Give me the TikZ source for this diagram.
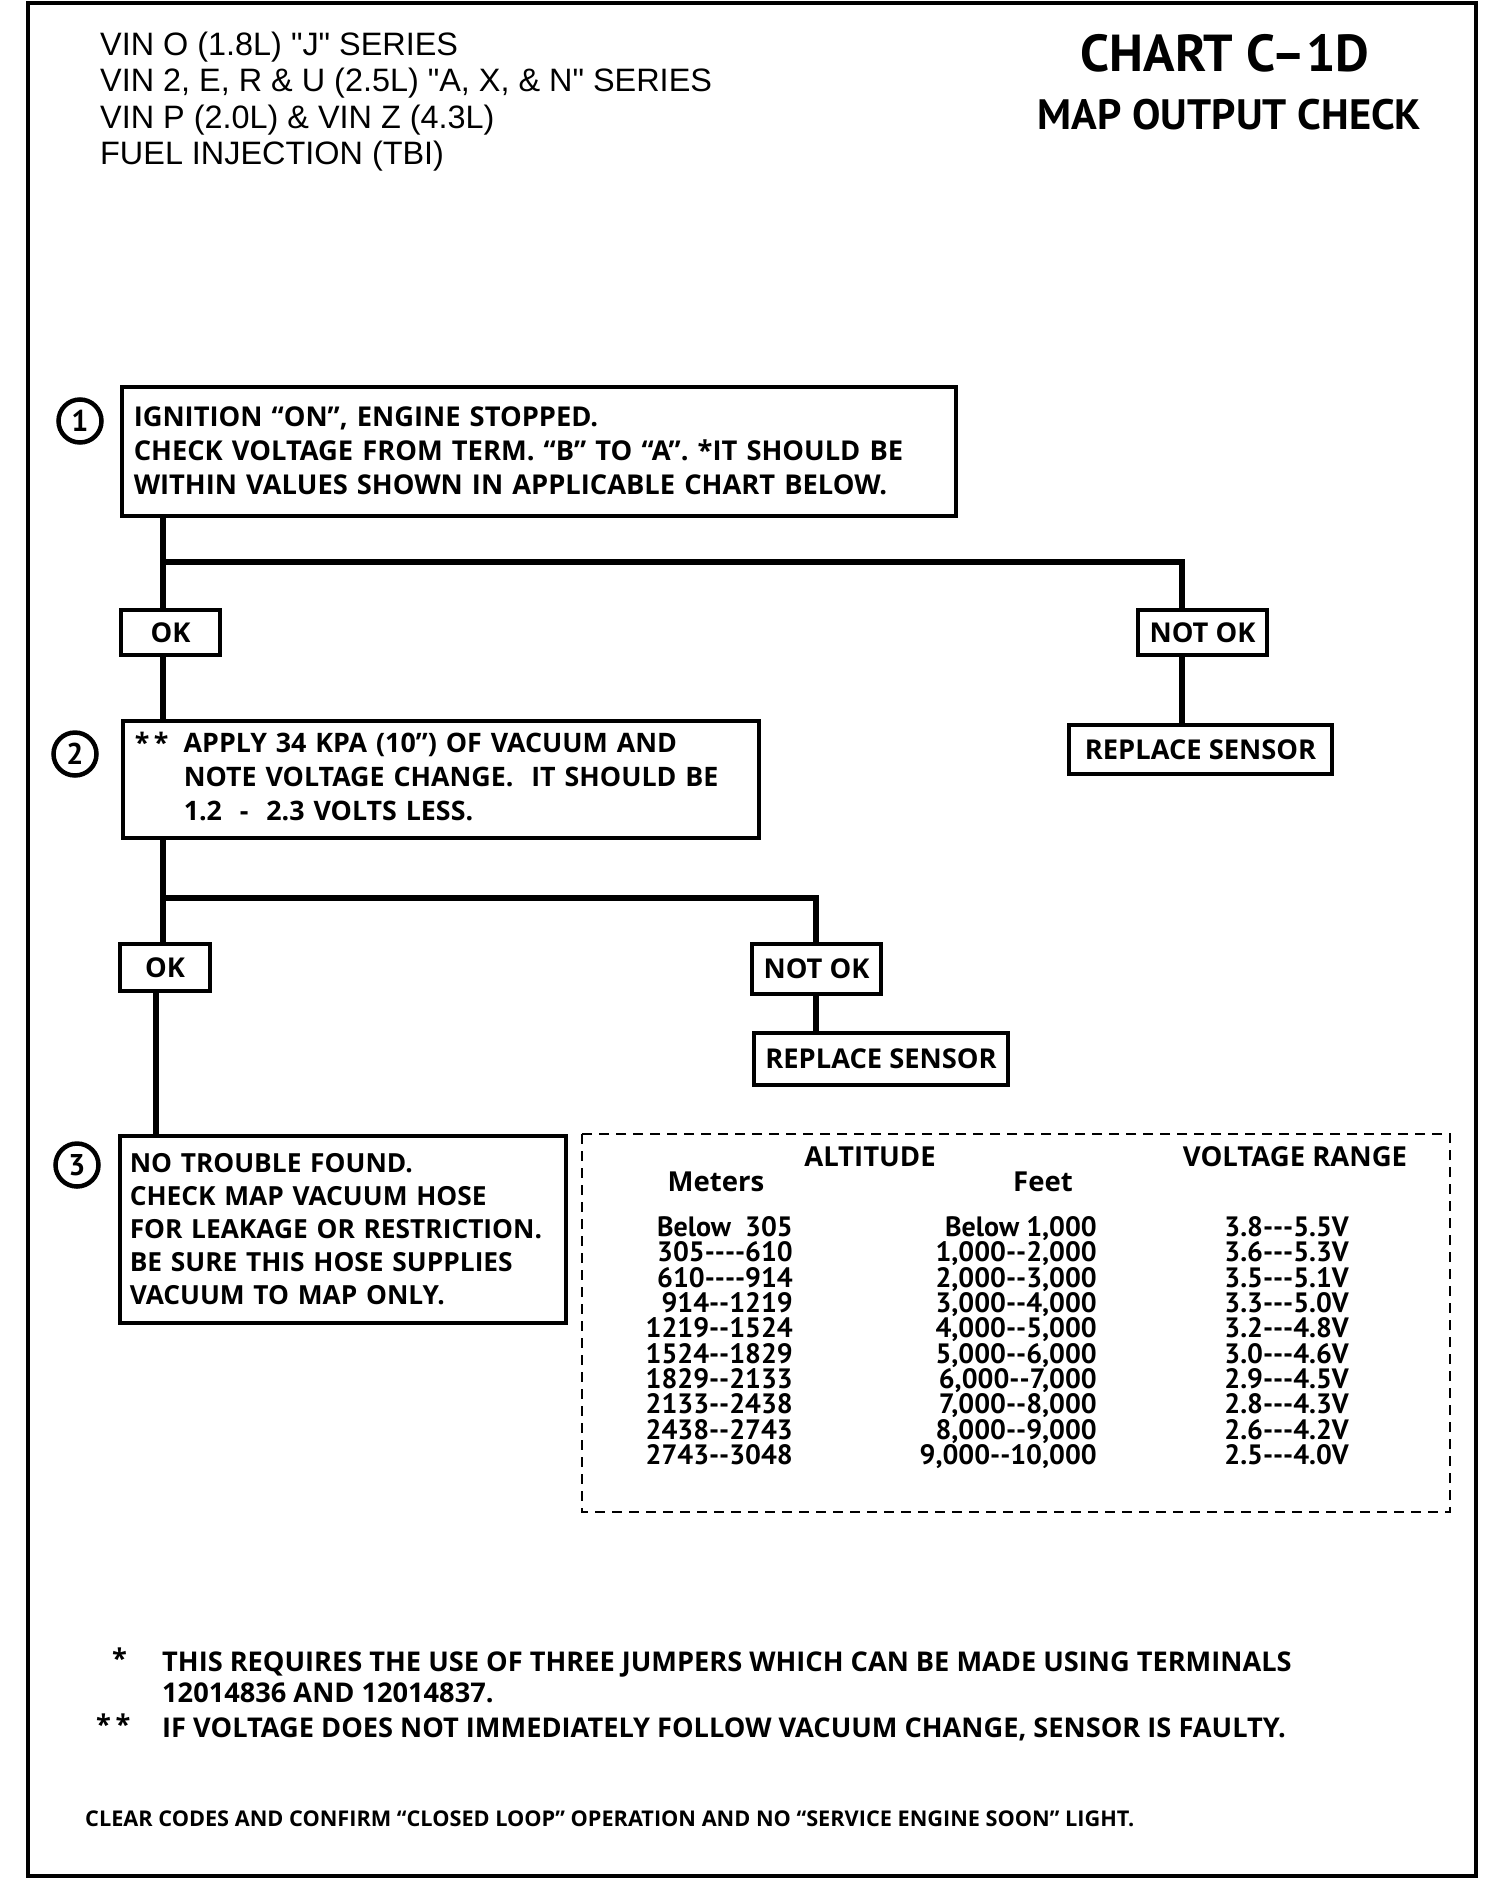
\documentclass[tikz,border=0pt]{standalone}
\usepackage{fontspec}
\setmainfont{Open Sans}
\newfontfamily\hdrfont{Liberation Sans}
\newfontfamily\ptfont{PT Sans}
\newcommand\hy{\mbox{-}}
\newcommand\bxfont{\bfseries\fontsize{27.3}{34}\selectfont}
\newcommand\tbfont{\ptfont\bfseries\fontsize{28}{25.3}\selectfont}
\newcommand\thfont{\bfseries\fontsize{27.5}{28}\selectfont}
\begin{document}
\begin{tikzpicture}[x=1pt,y=-1pt,
  box/.style={draw,line width=3.5pt,anchor=north west,inner xsep=12pt,inner ysep=0pt,align=left,font=\bxfont},
  small/.style={draw,line width=3.5pt,inner sep=0pt,font=\bxfont},
  conn/.style={line width=5.5pt,line join=miter},
  num/.style={draw,circle,line width=4.5pt,minimum size=43pt,inner sep=0pt,font=\ptfont\bfseries\fontsize{30}{30}\selectfont},
  hdr/.style={anchor=base west,inner sep=0pt,font=\hdrfont\fontsize{32.4}{36}\selectfont},
  tcell/.style={anchor=base east,inner sep=0pt,font=\tbfont},
  note/.style={anchor=base west,inner sep=0pt,font=\bfseries\fontsize{27.2}{30}\selectfont}]
\useasboundingbox (0,0) rectangle (1504,1880);
% frame
\draw[line width=4pt] (28,3) rectangle (1476,1876);
% header
\node[hdr] (h1) at (100,55) {VIN O (1.8L) "J" SERIES};
\node[hdr] (h2) at (100,91) {VIN 2, E, R \& U (2.5L) "A, X, \& N" SERIES};
\node[hdr] (h3) at (100,128) {VIN P (2.0L) \& VIN Z (4.3L)};
\node[hdr] (h4) at (100,164) {FUEL INJECTION (TBI)};
\node[inner sep=0pt,font=\ptfont\bfseries\fontsize{52}{52}\selectfont] (title) at (1225,53) {CHART C–1D};
\node[inner sep=0pt,font=\ptfont\bfseries\fontsize{42.5}{42.5}\selectfont] (sub) at (1229.5,115) {MAP OUTPUT CHECK};
% step 1
\node[box,minimum width=834pt,minimum height=129pt,text width=810pt] (b1) at (120,385)
  {IGNITION “ON”, ENGINE STOPPED.\\CHECK VOLTAGE FROM TERM. “B” TO “A”. *IT SHOULD BE\\WITHIN VALUES SHOWN IN APPLICABLE CHART BELOW.};
\node[num] (n1) at (80,421) {1};
\node[small,minimum width=99pt,minimum height=45pt] (ok1) at (170.5,632.5) {OK};
\node[small,minimum width=129pt,minimum height=45pt] (nok1) at (1202.5,632.5) {NOT OK};
\node[small,minimum width=263pt,minimum height=49pt] (rs1) at (1200.5,749.5) {REPLACE SENSOR};
\coordinate (j1) at (163,562);
\coordinate (c1) at (1182,562);
\draw[conn] (j1 |- b1.south) -- (j1 |- ok1.north);
\draw[conn] (j1) -- (c1) -- (c1 |- nok1.north);
\draw[conn] (c1 |- nok1.south) -- (c1 |- rs1.north);
% step 2
\node[box,minimum width=636pt,minimum height=117pt,text width=612pt,font=\bfseries\fontsize{26.8}{34}\selectfont] (b2) at (121,719)
  {\begin{tabular}{@{}p{49pt}@{}l@{}}*\,*&APPLY 34 KPA (10”) OF VACUUM AND\\&NOTE VOLTAGE CHANGE.\ \ IT SHOULD BE\\&1.2 \ -\ \ 2.3 VOLTS LESS.\end{tabular}};
\node[num] (n2) at (75,754) {2};
\draw[conn] (j1 |- ok1.south) -- (j1 |- b2.north);
\node[small,minimum width=90pt,minimum height=47pt] (ok2) at (165,967.5) {OK};
\node[small,minimum width=129pt,minimum height=50pt] (nok2) at (816.5,969) {NOT OK};
\node[small,minimum width=254pt,minimum height=52pt] (rs2) at (881,1059) {REPLACE SENSOR};
\coordinate (j2) at (163,898);
\coordinate (c2) at (816,898);
\coordinate (j3) at (156,991);
\draw[conn] (j2 |- b2.south) -- (j2 |- ok2.north);
\draw[conn] (j2) -- (c2) -- (c2 |- nok2.north);
\draw[conn] (c2 |- nok2.south) -- (c2 |- rs2.north);
\draw[conn] (j3 |- ok2.south) -- (j3 |- 0,1134);
% step 3
\node[box,minimum width=446pt,minimum height=187pt,inner xsep=10pt,text width=426pt,font=\bfseries\fontsize{26.3}{33}\selectfont] (b3) at (118,1134)
  {\mbox{NO TROUBLE FOUND.}\\\mbox{CHECK MAP VACUUM HOSE}\\\mbox{FOR LEAKAGE OR RESTRICTION.}\\\mbox{BE SURE THIS HOSE SUPPLIES}\\\mbox{VACUUM TO MAP ONLY.}};
\node[num] (n3) at (77,1165) {3};
% table
\draw[line width=2.2pt,dash pattern=on 10pt off 7pt] (582,1134) rectangle (1450,1512);
\node[anchor=base,inner sep=0pt,font=\thfont] (alt) at (870,1166) {ALTITUDE};
\node[anchor=base,inner sep=0pt,font=\thfont] (vr) at (1295,1166) {VOLTAGE RANGE};
\node[anchor=base,inner sep=0pt,font=\thfont] (met) at (716,1191) {Meters};
\node[anchor=base,inner sep=0pt,font=\thfont] (ft) at (1043,1191) {Feet};
\foreach \m/\f/\v [count=\i] in {
  {Below\ \ 305}/{Below 1,000}/{3.8\hy\hy\hy5.5V},
  {305\hy\hy\hy\hy610}/{1,000\hy\hy2,000}/{3.6\hy\hy\hy5.3V},
  {610\hy\hy\hy\hy914}/{2,000\hy\hy3,000}/{3.5\hy\hy\hy5.1V},
  {914\hy\hy1219}/{3,000\hy\hy4,000}/{3.3\hy\hy\hy5.0V},
  {1219\hy\hy1524}/{4,000\hy\hy5,000}/{3.2\hy\hy\hy4.8V},
  {1524\hy\hy1829}/{5,000\hy\hy6,000}/{3.0\hy\hy\hy4.6V},
  {1829\hy\hy2133}/{6,000\hy\hy7,000}/{2.9\hy\hy\hy4.5V},
  {2133\hy\hy2438}/{7,000\hy\hy8,000}/{2.8\hy\hy\hy4.3V},
  {2438\hy\hy2743}/{8,000\hy\hy9,000}/{2.6\hy\hy\hy4.2V},
  {2743\hy\hy3048}/{9,000\hy\hy10,000}/{2.5\hy\hy\hy4.0V}} {
  \node[tcell] (m\i) at (793,1236.6+25.3*\i-25.3) {\m};
  \node[tcell] (f\i) at (1097,1236.6+25.3*\i-25.3) {\f};
  \node[tcell] (v\i) at (1349,1236.6+25.3*\i-25.3) {\v};
}
% notes
\node[note] (s1) at (112,1668) {*};
\node[note] (t1) at (162,1671) {THIS REQUIRES THE USE OF THREE JUMPERS WHICH CAN BE MADE USING TERMINALS};
\node[note] (t2) at (162,1702) {12014836 AND 12014837.};
\node[note] (s2) at (96,1734) {*\,*};
\node[note] (t3) at (162,1737) {IF VOLTAGE DOES NOT IMMEDIATELY FOLLOW VACUUM CHANGE, SENSOR IS FAULTY.};
\node[anchor=base west,inner sep=0pt,font=\bfseries\fontsize{21.7}{24}\selectfont] (clr) at (85,1826)
  {CLEAR CODES AND CONFIRM “CLOSED LOOP” OPERATION AND NO “SERVICE ENGINE SOON” LIGHT.};
\end{tikzpicture}
\end{document}
